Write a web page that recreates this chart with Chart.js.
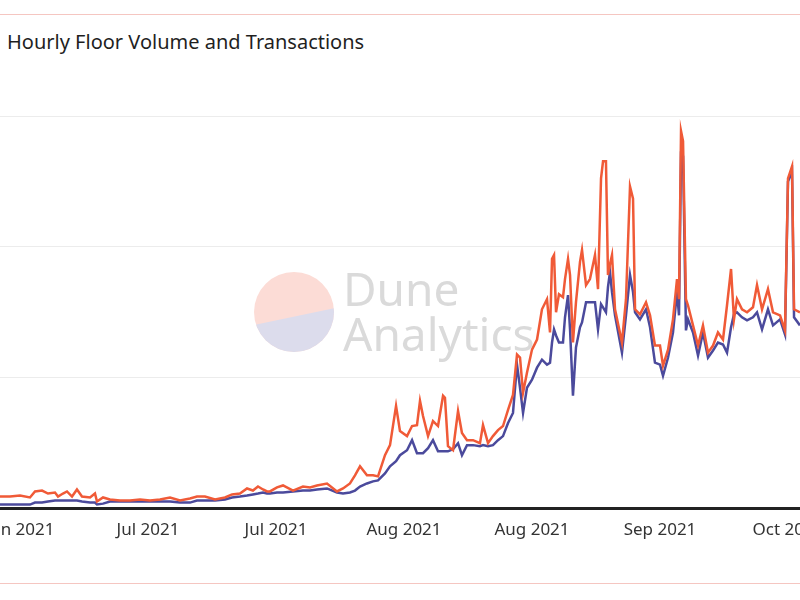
<!DOCTYPE html>
<html>
<head>
<meta charset="utf-8">
<script src="https://cdn.jsdelivr.net/npm/chart.js@4.4.1/dist/chart.umd.min.js"></script>
<style>
  body { margin: 0; background: #fff; overflow: hidden; }
  #wrap { position: relative; width: 800px; height: 600px; }
  #chartBox { position: absolute; left: 0; top: 0; width: 800px; height: 600px; }
  .frame { position: absolute; left: 0; width: 800px; height: 1px; background: #f5c6c1; }
  #title { position: absolute; left: 7px; top: 28px; font-family: "Noto Sans", sans-serif; font-size: 20px; color: #1f1f1f; white-space: nowrap; }
</style>
</head>
<body>
<div id="wrap">
  <div class="frame" style="top:14px"></div>
  <div class="frame" style="top:583px"></div>
  <div id="title">Hourly Floor Volume and Transactions</div>
  <div id="chartBox"><canvas id="myChart"></canvas></div>
</div>
<script>
// days since first tick (Jun 2021)
var days = [-2.19, -1.09, 0, 1.09, 1.64, 2.41, 3.06, 3.83, 4.16, 4.70, 5.14, 5.69, 6.23, 6.78, 7.66, 8.20, 8.42, 9.08, 9.84, 10.94,
  12.03, 13.13, 14.22, 15.31, 16.41, 17.50, 18.59, 19.36, 20.23, 21.33, 22.42, 23.19, 24.06, 24.83, 25.48, 26.03, 26.58, 27.02, 27.34, 28.11,
  28.77, 29.86, 30.95, 31.72, 32.48, 33.58, 34.67, 35.33, 36.09, 36.64, 37.19, 37.95, 38.61, 39.16, 39.92, 40.47, 41.13, 41.56, 42.33, 42.88,
  43.42, 43.75, 44.08, 44.63, 45.17, 45.72, 46.27, 46.48, 46.81, 47.36, 47.91, 48.34, 48.89, 49.55, 50.31, 50.64, 51.19, 51.73, 52.28, 52.83,
  53.38, 53.92, 54.36, 54.69, 55.02, 55.45, 56.00, 56.55, 57.09, 57.64, 57.97, 58.19, 58.41, 58.63, 58.95, 59.39, 59.61, 59.94, 60.16, 60.48,
  60.81, 61.25, 61.47, 61.91, 62.34, 62.89, 63.22, 63.55, 63.77, 64.09, 64.31, 64.53, 64.75, 65.08, 65.84, 66.28, 66.72, 67.05, 67.27, 67.81,
  68.47, 68.91, 69.45, 70.00, 70.33, 70.88, 71.42, 71.86, 72.08, 72.30, 72.52, 72.84, 73.06, 73.61, 74.16, 74.70, 75.25, 75.80, 76.34, 76.89,
  77.33, 77.77, 78.09, 78.42, 78.97, 79.52, 80.17, 80.61, 81.16, 81.81, 82.36, 83.13, 83.67, 84.00, 84.44, 84.66, 85.31];

// orange line
var floorVolume = [9.2, 9.2, 10.0, 8.5, 13.1, 13.8, 11.5, 12.3, 9.2, 11.5, 13.1, 9.2, 14.6, 9.2, 8.5, 11.5, 5.4, 8.5, 6.9, 6.2,
  6.2, 6.9, 6.2, 6.9, 8.5, 6.2, 7.7, 9.2, 9.2, 6.9, 8.5, 10.8, 11.5, 15.4, 13.8, 16.9, 14.6, 13.1, 13.1, 16.2,
  17.7, 13.8, 16.9, 16.2, 17.7, 19.2, 13.1, 15.4, 19.2, 25.4, 32.3, 25.4, 25.4, 24.6, 40.8, 48.5, 78.5, 59.2, 55.4, 63.1,
  63.8, 82.3, 70.8, 55.4, 66.9, 63.1, 86.2, 84.6, 47.7, 44.6, 74.6, 57.7, 52.3, 52.3, 50.0, 63.8, 50.0, 55.4, 60.0, 63.1,
  75.4, 86.9, 117.7, 115.4, 88.5, 103.8, 121.5, 129.2, 152.3, 160.0, 134.6, 190.8, 193.8, 150.0, 163.8, 161.5, 175.4, 190.8, 178.5, 126.9,
  157.7, 188.5, 197.7, 170.8, 175.4, 193.8, 167.7, 252.3, 265.4, 265.4, 178.5, 186.9, 193.8, 152.3, 126.9, 160.0, 246.2, 236.9, 152.3, 148.5,
  157.7, 147.7, 124.6, 124.6, 109.2, 121.5, 144.6, 175.4, 160.0, 288.5, 280.8, 160.0, 155.4, 140.0, 124.6, 140.0, 119.2, 124.6, 134.6, 129.2,
  155.4, 183.1, 144.6, 160.0, 152.3, 150.0, 153.8, 170.8, 152.3, 167.7, 150.0, 147.7, 136.2, 252.3, 261.5, 152.3, 150.0];

// navy line
var transactions = [3.1, 3.1, 3.1, 3.1, 4.6, 4.6, 5.4, 6.2, 6.2, 6.2, 6.2, 6.2, 6.2, 5.4, 4.6, 4.6, 3.1, 3.8, 5.4, 5.4,
  5.4, 5.4, 5.4, 5.4, 5.4, 4.6, 4.6, 6.2, 6.2, 6.2, 6.9, 8.5, 9.2, 10.0, 10.8, 11.5, 12.3, 11.5, 11.5, 12.3,
  12.3, 13.1, 13.8, 13.8, 14.6, 15.4, 12.3, 11.5, 12.3, 13.8, 16.9, 19.2, 20.8, 21.5, 26.9, 32.3, 36.2, 40.8, 44.6, 52.3,
  42.3, 42.3, 42.3, 46.2, 52.3, 43.8, 43.8, 43.8, 43.8, 45.4, 50.0, 40.8, 48.5, 48.5, 47.7, 48.5, 47.7, 48.5, 52.3, 55.4,
  65.4, 73.1, 110.0, 92.3, 73.1, 92.3, 98.5, 107.7, 113.8, 110.0, 111.5, 126.9, 136.9, 132.3, 126.9, 126.9, 146.2, 163.1, 136.9, 86.2,
  123.1, 138.5, 142.3, 157.7, 157.7, 157.7, 136.9, 156.2, 153.8, 150.0, 169.2, 180.8, 165.4, 147.7, 119.2, 147.7, 178.5, 165.4, 150.0, 144.6,
  152.3, 138.5, 111.5, 110.0, 101.5, 115.4, 134.6, 165.4, 147.7, 270.8, 269.2, 136.2, 144.6, 134.6, 116.9, 134.6, 115.4, 120.8, 126.9, 125.4,
  119.2, 138.5, 148.5, 150.0, 146.2, 143.8, 146.2, 150.0, 136.9, 152.3, 140.0, 144.6, 133.1, 250.0, 257.7, 146.2, 140.0];

// x tick labels, one every 14 days
var tickLabels = ["Jun 2021", "Jul 2021", "Jul 2021", "Aug 2021", "Aug 2021", "Sep 2021", "Oct 2021"];

// builds the {x, y} points for a series
function toPoints(values) {
  return days.map(function (d, i) { return { x: d, y: values[i] }; });
}

// draws the Dune Analytics watermark behind the lines
var watermark = {
  id: "watermark",
  beforeDatasetsDraw: function (chart) {
    var ctx = chart.ctx;
    ctx.save();
    ctx.beginPath();
    ctx.arc(294, 312, 40, 0, Math.PI * 2);
    ctx.clip();
    ctx.fillStyle = "#fcdcd6";
    ctx.fillRect(250, 268, 90, 90);
    ctx.beginPath();
    ctx.moveTo(240, 328);
    ctx.lineTo(345, 306);
    ctx.lineTo(345, 360);
    ctx.lineTo(240, 360);
    ctx.closePath();
    ctx.fillStyle = "#dcdcec";
    ctx.fill();
    ctx.restore();

    ctx.save();
    ctx.fillStyle = "#dadada";
    ctx.font = "46px 'Noto Sans', sans-serif";
    ctx.textBaseline = "alphabetic";
    ctx.fillText("Dune", 343, 306);
    ctx.fillText("Analytics", 343, 351);
    ctx.restore();
  }
};

new Chart("myChart", {
  type: "line",
  data: {
    datasets: [{
      label: "Floor Volume",
      data: toPoints(floorVolume),
      borderColor: "#f05a37",
      borderWidth: 2.5,
      pointRadius: 0,
      tension: 0
    }, {
      label: "Transactions",
      data: toPoints(transactions),
      borderColor: "#4b4a9c",
      borderWidth: 2.5,
      pointRadius: 0,
      tension: 0
    }]
  },
  options: {
    responsive: true,
    maintainAspectRatio: false,
    animation: false,
    layout: { padding: { top: 116, bottom: 49, left: 0, right: 0 } },
    plugins: {
      legend: { display: false },
      tooltip: { enabled: false }
    },
    scales: {
      x: {
        type: "linear",
        min: -2.1875,
        max: 85.3125,
        grid: { display: false, drawTicks: false },
        border: { display: true, color: "#222", width: 3 },
        ticks: {
          stepSize: 14,
          includeBounds: false,
          autoSkip: false,
          maxRotation: 0,
          padding: 11,
          color: "#333",
          font: { family: "Noto Sans", size: 17 },
          callback: function (value) { return tickLabels[Math.round(value / 14)]; }
        },
        afterFit: function (scale) { scale.paddingLeft = 0; scale.paddingRight = 0; }
      },
      y: {
        min: 0,
        max: 300,
        grid: { color: "#ececec", lineWidth: 1, drawTicks: false },
        border: { display: false },
        ticks: { display: false, stepSize: 100 },
        afterFit: function (scale) { scale.width = 0; }
      }
    }
  },
  plugins: [watermark]
});
</script>
</body>
</html>
